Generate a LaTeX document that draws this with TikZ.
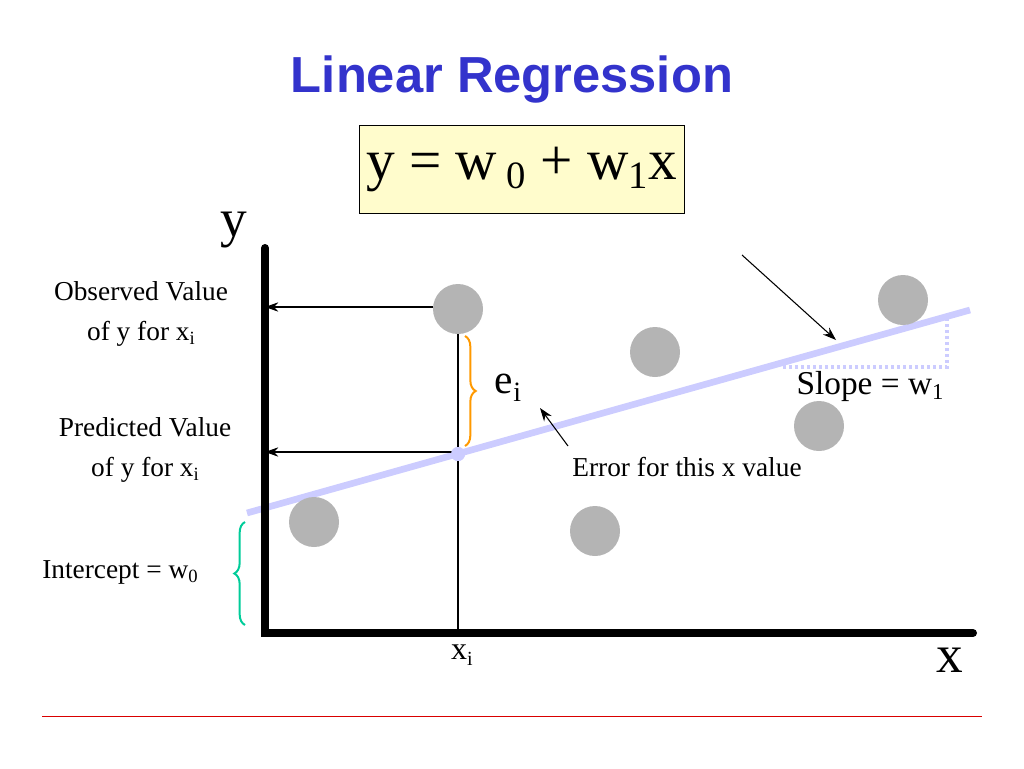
\documentclass[tikz,border=0pt]{standalone}
\usepackage{fontspec}
\setmainfont{Liberation Serif}
\newfontfamily\titlefont{Liberation Sans}
\usetikzlibrary{arrows.meta,decorations.pathreplacing}
\definecolor{ttl}{HTML}{3333CC}
\definecolor{lav}{HTML}{CCCCFF}
\definecolor{dotg}{HTML}{B4B4B4}
\definecolor{brorange}{HTML}{FF9900}
\definecolor{brgreen}{HTML}{00CC99}
\begin{document}
\begin{tikzpicture}[x=0.75pt,y=-0.75pt,
  dot/.style={circle,fill=dotg,minimum size=50*0.75pt,inner sep=0},
  lbl/.style={font=\fontsize{20.5}{24}\selectfont,align=center,inner sep=0},
  arr/.style={-{Stealth[length=10pt,width=7pt]},line width=0.8pt}]
\useasboundingbox (0,0) rectangle (1024,768);
\node[font=\titlefont\bfseries\fontsize{38}{44}\selectfont,text=ttl] (title) at (512,80) {Linear Regression};
\node[draw,fill=yellow!20,minimum width=325*0.75pt,minimum height=88*0.75pt,inner sep=0] (eq) at (521.5,169)
  {\fontsize{43}{48}\selectfont y = w\,\raisebox{-0.35ex}{\fontsize{29}{32}\selectfont 0} + w\raisebox{-0.35ex}{\fontsize{29}{32}\selectfont 1}x};
% regression line
\coordinate (l0) at (247,513); \coordinate (l1) at (970,310);
\draw[lav,line width=5pt] (l0) -- (l1);
\draw[lav,line width=2.5pt,dotted] (947,318) -- (947,367) -- (782,367);
% axes
\coordinate (o) at (265,633);
\draw[line width=6pt,line cap=round] (265,248) -- (o) -- (973,633);
\node[font=\fontsize{40}{44}\selectfont] (ylab) at (234,230) {y};
\node[font=\fontsize{40}{44}\selectfont] (xlab) at (950,660) {x};
% dots
\node[dot] (d1) at (458,309) {};
\node[dot] (d2) at (655,352) {};
\node[dot] (d3) at (903,300) {};
\node[dot] (d4) at (819,426) {};
\node[dot] (d5) at (314,522) {};
\node[dot] (d6) at (595,531) {};
\node[circle,fill=lav,minimum size=14*0.75pt,inner sep=0] (p) at (458,454) {};
\coordinate (xb) at (458,633);
\draw[line width=0.8pt] (d1.south) -- (xb);
\coordinate (ya) at (265,307); \coordinate (yb) at (265,452);
\coordinate (ya0) at (433,307); \coordinate (yb0) at (458,452);
\draw[arr] (ya0) -- (ya);
\draw[arr] (yb0) -- (yb);
\node[circle,fill=lav,minimum size=14*0.75pt,inner sep=0] at (p) {};
% error brace
\draw[brorange,line width=1.5pt,decorate,decoration={brace,amplitude=8pt}] (465,336) -- (465,446);
\node[font=\fontsize{31}{34}\selectfont] (ei) at (508,388) {e\raisebox{-0.4ex}{\fontsize{21}{22}\selectfont i}};
\node[lbl] (err) at (687,467) {Error for this x value};
\draw[arr] (568,446) -- (540,408);
\coordinate (sa) at (742,255); \coordinate (sb) at (836,340);
\draw[arr] (sa) -- (sb);
\node[lbl,font=\fontsize{25}{28}\selectfont] (slope) at (870,386) {Slope = w\raisebox{-0.35ex}{\fontsize{17}{19}\selectfont 1}};
% left labels
\node[lbl] (obs) at (141,314) {Observed Value\\[6pt]of y for x\raisebox{-0.35ex}{\fontsize{14}{16}\selectfont i}};
\node[lbl] (pred) at (145,450) {Predicted Value\\[6pt]of y for x\raisebox{-0.35ex}{\fontsize{14}{16}\selectfont i}};
\node[lbl] (icpt) at (120,572) {Intercept = w\raisebox{-0.35ex}{\fontsize{14}{16}\selectfont 0}};
\draw[brgreen,line width=1.5pt,decorate,decoration={brace,amplitude=8pt}] (245,625) -- (245,522);
\node[lbl,font=\fontsize{24}{26}\selectfont] (xi) at (462,655) {x\raisebox{-0.4ex}{\fontsize{15}{17}\selectfont i}};
\draw[red!85!black,thin] (42,716) -- (982,716);
\end{tikzpicture}
\end{document}
